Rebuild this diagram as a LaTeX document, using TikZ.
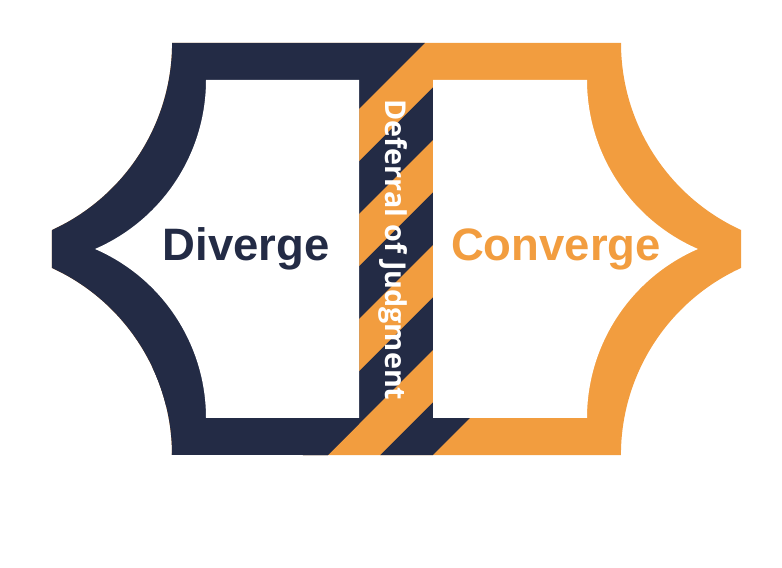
\documentclass[tikz,border=0pt]{standalone}
\usepackage{fontspec}
\setmainfont{Liberation Sans}
\newfontfamily\bandfont{Open Sans}
\definecolor{dtnavy}{RGB}{35,43,69}
\definecolor{dtorange}{RGB}{242,157,63}

\begin{document}
\begin{tikzpicture}[
  x=0.03cm,y=0.03cm,
  every node/.style={inner sep=0pt},
  phase/.style={font=\fontsize{38.8}{42}\selectfont\bfseries,anchor=base},
  band/.style={font=\bandfont\fontsize{24.5}{26}\selectfont\bfseries,text=white,rotate=-90}
]
\useasboundingbox (0,0) rectangle (782,568);

% Frame outline
\begin{scope}
\clip
  (172,525) -- (621,525) arc[start angle=180,end angle=245.4,radius=205.7]
  -- (741,300) arc[start angle=114.6,end angle=180,radius=205.7]
  -- (172,113) arc[start angle=0,end angle=65.4,radius=205.7]
  -- (52,338) arc[start angle=-65.4,end angle=0,radius=205.7] -- cycle;

% Right half
\fill[dtorange] (0,0) rectangle (782,568);
% Left half
\fill[dtnavy] (0,0) -- (215,0) -- (359,144) -- (359,459) -- (468,568) -- (0,568) -- cycle;
% Stripes
\begin{scope}
\clip (0,0) -- (782,0) -- (782,150) -- (433,150) -- (433,568) -- (0,568) -- cycle;
\foreach \c in {520.5,625.5,730.5,835.5}
  \fill[dtnavy] (\c-568,0) -- (\c,568) -- (\c+52.5,568) -- (\c+52.5-568,0) -- cycle;
\end{scope}
\end{scope}

% Windows
\fill[white] (206,488) arc[start angle=0,end angle=-66.6,radius=184.15]
  arc[start angle=66.6,end angle=0,radius=184.15] -- (359,150) -- (359,488) -- cycle;
\fill[white] (433,488) -- (587,488) arc[start angle=180,end angle=246.6,radius=184.15]
  arc[start angle=113.4,end angle=180,radius=184.15] -- (433,150) -- cycle;

% Labels
\node[phase,text=dtnavy] (diverge) at (246,307) {Diverge};
\node[phase,text=dtorange] (converge) at (556,307) {Converge};
\node[band] (deferral) at (393,318) {Deferral of Judgment};
\end{tikzpicture}
\end{document}
